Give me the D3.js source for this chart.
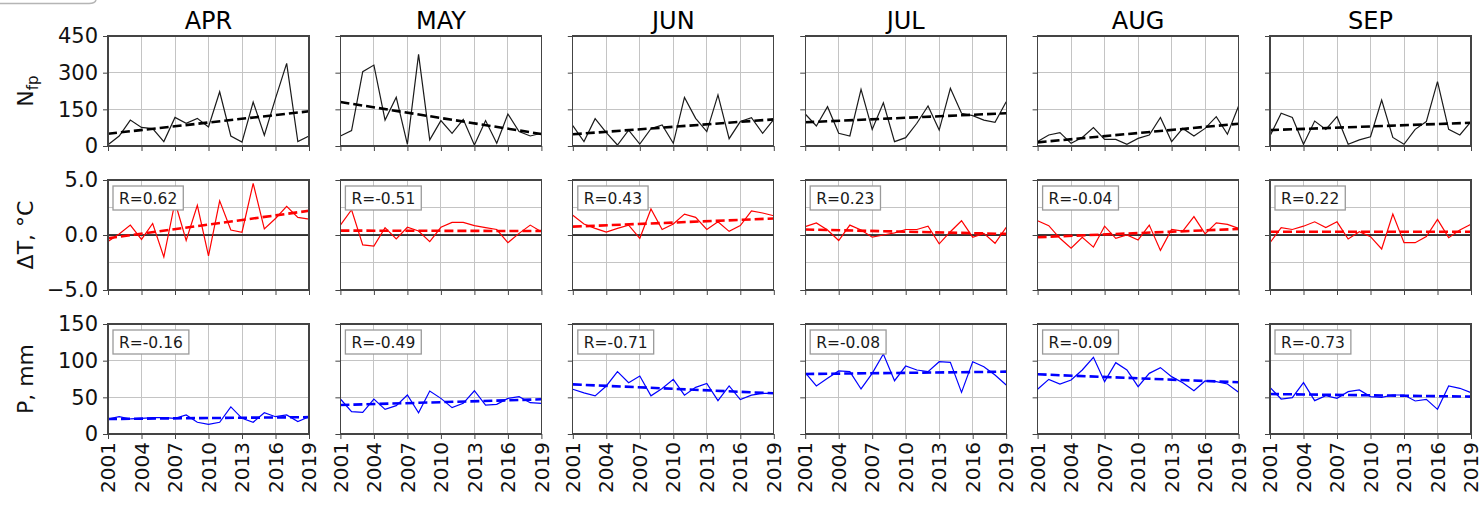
<!DOCTYPE html>
<html>
<head>
<meta charset="utf-8">
<script src="https://cdn.jsdelivr.net/npm/d3@7"></script>
<style>
  body { margin: 0; background: #fff; }
  svg { display: block; font-family: "DejaVu Sans", sans-serif; }
</style>
</head>
<body>
<svg id="chart" width="1483" height="506"></svg>
<script>
// months and years
const months = ["APR", "MAY", "JUN", "JUL", "AUG", "SEP"];
const years = d3.range(2001, 2020);
const yearTicks = [2001, 2004, 2007, 2010, 2013, 2016, 2019];

// number of fire points per month
const nfpApr = [5, 41, 106, 76, 71, 18, 117, 93, 113, 78, 222, 41, 16, 180, 44, 195, 338, 18, 41];
const nfpMay = [41, 63, 304, 331, 106, 199, 7, 375, 25, 104, 52, 109, 4, 104, 11, 131, 59, 41, 52];
const nfpJun = [83, 18, 112, 55, 4, 65, 8, 71, 86, 11, 199, 113, 59, 209, 30, 100, 116, 52, 109];
const nfpJul = [131, 82, 161, 52, 41, 232, 68, 177, 18, 34, 93, 164, 65, 236, 134, 124, 106, 97, 181];
const nfpAug = [18, 45, 55, 11, 35, 75, 27, 27, 7, 31, 45, 117, 18, 72, 41, 72, 120, 48, 164];
const nfpSep = [41, 134, 117, 7, 102, 68, 120, 7, 25, 38, 188, 35, 7, 68, 100, 263, 68, 45, 100];

// temperature anomaly per month
const dtApr = [-0.6, 0.1, 0.9, -0.4, 1.05, -2.0, 3.0, -0.5, 2.7, -1.9, 3.1, 0.45, 0.25, 4.7, 0.55, 1.5, 2.6, 1.6, 1.45];
const dtMay = [0.9, 2.3, -0.9, -1.0, 0.67, -0.36, 0.7, 0.36, -0.6, 0.7, 1.15, 1.15, 0.85, 0.67, 0.5, -0.7, 0.15, 0.9, 0.3];
const dtJun = [1.8, 1.0, 0.6, 0.27, 0.6, 0.9, -0.3, 2.36, 0.5, 1.0, 1.9, 1.6, 0.5, 1.2, 0.33, 0.85, 2.2, 2.0, 1.75];
const dtJul = [0.76, 1.1, 0.45, -0.5, 0.9, 0.45, -0.2, 0.0, 0.2, 0.5, 0.5, 0.8, -0.8, 0.3, 1.3, -0.2, 0.15, -0.75, 0.7];
const dtAug = [1.3, 0.85, -0.3, -1.2, -0.2, -1.1, 0.8, -0.3, 0.0, -0.45, 0.9, -1.4, 0.5, 0.36, 1.67, 0.1, 1.1, 0.97, 0.6];
const dtSep = [-0.7, 0.67, 0.5, 0.8, 1.2, 0.67, 1.2, -0.36, 0.3, -0.15, -1.27, 1.9, -0.7, -0.7, -0.15, 1.42, -0.24, 0.45, 0.97];

// precipitation per month
const pApr = [20.5, 23.6, 20.5, 21.4, 22.3, 22.3, 21.4, 26, 16, 13.2, 16, 37, 21.4, 16, 29, 23.6, 26, 17, 23.6];
const pMay = [47.7, 30.5, 29.5, 47.7, 33.6, 38.6, 53.2, 29, 58.6, 48.6, 36, 41.8, 59, 39.5, 40.5, 48.6, 51, 42.7, 41.8];
const pJun = [61, 56, 52, 65.5, 85, 70, 79, 52, 62, 74.5, 53, 63.6, 69, 45.5, 65.5, 47, 53, 55.5, 55.5];
const pJul = [83.6, 65.5, 76, 86, 85, 61.4, 82.7, 109, 72.7, 92.7, 87.3, 85, 98.6, 97.7, 56.8, 98.6, 91.8, 80.5, 66.8];
const pAug = [61, 74.5, 68.2, 73.6, 87.3, 104.5, 71.4, 97.3, 87.3, 64.5, 82.7, 90.5, 78.2, 70, 59, 72.3, 71.4, 68.2, 56.8];
const pSep = [63.6, 47.7, 49.5, 70, 45.5, 52.3, 48.6, 57.7, 60, 51, 50, 53.2, 53.2, 45, 47.3, 33.6, 65.5, 62.3, 56.4];

// linear trend at 2001 and 2019
const nfpTrend = [[50, 142], [180, 49], [48, 109], [97, 134], [15, 91], [65, 95]];
const dtTrend = [[-0.3, 2.2], [0.4, 0.36], [0.76, 1.5], [0.5, 0.1], [-0.2, 0.55], [0.3, 0.3]];
const pTrend = [[20.5, 23], [39.5, 47.3], [67.7, 55.5], [81.8, 85], [81.4, 70.5], [54.5, 51]];

// correlation labels
const rTemp = ["0.62", "-0.51", "0.43", "0.23", "-0.04", "0.22"];
const rPrec = ["-0.16", "-0.49", "-0.71", "-0.08", "-0.09", "-0.73"];

const rows = [
  { series: [nfpApr, nfpMay, nfpJun, nfpJul, nfpAug, nfpSep], trend: nfpTrend, r: null,
    domain: [0, 450], grid: [0, 150, 300, 450], labels: [0, 150, 300, 450], fmt: d3.format("d"), color: "#1a1a1a" },
  { series: [dtApr, dtMay, dtJun, dtJul, dtAug, dtSep], trend: dtTrend, r: rTemp,
    domain: [-5, 5], grid: [-5, -2.5, 0, 2.5, 5], labels: [-5, 0, 5], fmt: d3.format(".1f"), color: "#ff0000" },
  { series: [pApr, pMay, pJun, pJul, pAug, pSep], trend: pTrend, r: rPrec,
    domain: [0, 150], grid: [0, 50, 100, 150], labels: [0, 50, 100, 150], fmt: d3.format("d"), color: "#0000ff" }
];

const left0 = 108, colStep = 232.4, plotW = 201, plotH = 110;
const rowTops = [36, 180, 324];

const svg = d3.select("#chart");

// stray frame corner at top left
svg.append("path")
  .attr("d", "M0,3.5 H89 Q95,3.5 96,0")
  .attr("fill", "none")
  .attr("stroke", "#b5b5b5")
  .attr("stroke-width", 1.5);

const x = d3.scaleLinear().domain([2001, 2019]).range([0, plotW]);

rows.forEach((row, ri) => {
  const y = d3.scaleLinear().domain(row.domain).range([plotH, 0]);
  const line = d3.line().x((d, i) => x(years[i])).y(d => y(d));

  months.forEach((m, ci) => {
    const g = svg.append("g")
      .attr("transform", "translate(" + (left0 + ci * colStep) + "," + rowTops[ri] + ")");

    // grid
    g.append("g").selectAll("line").data(yearTicks).enter().append("line")
      .attr("x1", d => x(d)).attr("x2", d => x(d))
      .attr("y1", 0).attr("y2", plotH)
      .attr("stroke", "#c4c4c4").attr("stroke-width", 1)
      .attr("shape-rendering", "crispEdges");
    g.append("g").selectAll("line").data(row.grid).enter().append("line")
      .attr("x1", 0).attr("x2", plotW)
      .attr("y1", d => y(d)).attr("y2", d => y(d))
      .attr("stroke", "#c4c4c4").attr("stroke-width", 1)
      .attr("shape-rendering", "crispEdges");

    // zero line for temperature
    if (ri === 1) {
      g.append("line")
        .attr("x1", 0).attr("x2", plotW)
        .attr("y1", y(0)).attr("y2", y(0))
        .attr("stroke", "#000").attr("stroke-width", 1.5);
    }

    // series
    g.append("path")
      .datum(row.series[ci])
      .attr("d", line)
      .attr("fill", "none")
      .attr("stroke", row.color)
      .attr("stroke-width", 1.2);

    // trend
    g.append("line")
      .attr("x1", x(2001)).attr("y1", y(row.trend[ci][0]))
      .attr("x2", x(2019)).attr("y2", y(row.trend[ci][1]))
      .attr("stroke", ri === 0 ? "#000" : row.color)
      .attr("stroke-width", 2.6)
      .attr("stroke-dasharray", "9,4");

    // axes
    const xAxis = d3.axisBottom(x).tickValues(yearTicks).tickSize(5).tickSizeOuter(0)
      .tickFormat(ri === 2 ? d3.format("d") : "");
    const xg = g.append("g").attr("transform", "translate(0," + plotH + ")").call(xAxis);
    xg.select(".domain").remove();
    xg.selectAll(".tick line").attr("stroke", "#444");
    xg.selectAll("text")
      .attr("transform", "rotate(-90)")
      .attr("x", -8).attr("y", 0).attr("dy", "0.33em")
      .style("text-anchor", "end")
      .attr("font-size", 20)
      .attr("font-family", "DejaVu Sans")
      .attr("fill", "#111");

    const yAxis = d3.axisLeft(y).tickValues(row.labels).tickSize(5).tickSizeOuter(0)
      .tickFormat(ci === 0 ? row.fmt : "");
    const yg = g.append("g").call(yAxis);
    yg.select(".domain").remove();
    yg.selectAll(".tick line").attr("stroke", "#444");
    yg.selectAll("text")
      .attr("x", -10)
      .attr("font-size", 21)
      .attr("font-family", "DejaVu Sans")
      .attr("fill", "#111");

    // frame
    g.append("rect")
      .attr("width", plotW).attr("height", plotH)
      .attr("fill", "none")
      .attr("stroke", "#444").attr("stroke-width", 1.2)
      .attr("shape-rendering", "crispEdges");

    // correlation box
    if (row.r) {
      const bx = g.append("g").attr("transform", "translate(5,6)");
      const rect = bx.append("rect").attr("fill", "#fff")
        .attr("stroke", "#9a9a9a").attr("stroke-width", 1.3);
      const t = bx.append("text")
        .attr("x", 6).attr("y", 18)
        .attr("font-size", 15.5)
        .attr("fill", "#1a1a1a")
        .text("R=" + row.r[ci]);
      const w = t.node().getComputedTextLength();
      rect.attr("width", w + 12).attr("height", 24);
    }

    // titles
    if (ri === 0) {
      svg.append("text")
        .attr("x", left0 + ci * colStep + plotW / 2)
        .attr("y", 29)
        .attr("text-anchor", "middle")
        .attr("font-size", 24)
        .attr("fill", "#000")
        .text(m);
    }
  });
});

// y axis labels
const nLab = svg.append("text")
  .attr("transform", "translate(33," + (rowTops[0] + plotH / 2) + ") rotate(-90)")
  .attr("text-anchor", "middle")
  .attr("font-size", 22)
  .attr("fill", "#111");
nLab.append("tspan").text("N");
nLab.append("tspan").attr("font-size", 15).attr("dy", 5).text("fp");

svg.append("text")
  .attr("transform", "translate(33," + (rowTops[1] + plotH / 2) + ") rotate(-90)")
  .attr("text-anchor", "middle")
  .attr("font-size", 22)
  .attr("fill", "#111")
  .text("ΔT, °C");

svg.append("text")
  .attr("transform", "translate(33," + (rowTops[2] + plotH / 2) + ") rotate(-90)")
  .attr("text-anchor", "middle")
  .attr("font-size", 22)
  .attr("fill", "#111")
  .text("P, mm");
</script>
</body>
</html>
